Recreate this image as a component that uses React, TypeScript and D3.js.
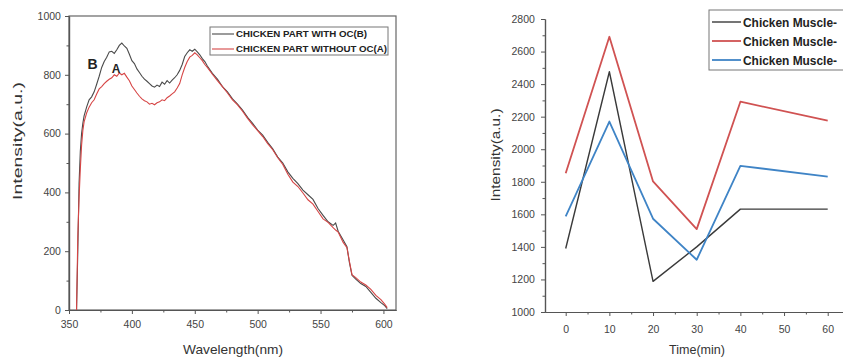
import React, { useEffect, useRef } from 'react';
import * as d3 from 'd3';

// left panel: fluorescence spectra
const wavelengths = [
  356, 357, 358, 359, 360, 361, 362, 364, 366, 368, 370, 372, 374, 376, 378, 380, 382, 384, 386, 388,
  390, 392, 394, 396, 398, 400, 402, 404, 406, 408, 410, 412, 414, 416, 418, 420, 422, 424, 426, 428,
  430, 432, 434, 436, 438, 440, 442, 444, 446, 448, 450, 452, 454, 456, 458, 460, 464, 468, 472, 476,
  480, 484, 488, 492, 496, 500, 504, 508, 512, 516, 520, 524, 528, 532, 536, 540, 544, 548, 552, 556,
  560, 562, 564, 568, 571, 573, 575, 578, 582, 586, 590, 594, 598, 601, 603,
];
const withOC = [
  0, 200, 430, 540, 600, 635, 660, 690, 715, 725, 742, 768, 795, 825, 845, 860, 878, 880, 873, 885,
  900, 908, 898, 890, 870, 848, 838, 820, 808, 795, 785, 778, 770, 762, 758, 765, 760, 775, 768, 780,
  772, 782, 790, 800, 815, 835, 862, 875, 885, 880, 887, 878, 868, 855, 845, 830, 805, 785, 760, 742,
  718, 700, 680, 655, 635, 612, 595, 570, 548, 520, 500, 470, 448, 430, 408, 392, 376, 345, 322, 300,
  288, 296, 268, 238, 215, 160, 118, 105, 90, 80, 60, 40, 25, 15, 5,
];
const withoutOC = [
  0, 250, 380, 480, 560, 610, 640, 670, 690, 705, 715, 735, 752, 760, 770, 778, 785, 790, 800, 795,
  806, 800, 805, 792, 780, 762, 750, 738, 727, 718, 712, 708, 700, 703, 698, 705, 708, 715, 712, 722,
  728, 735, 742, 755, 770, 800, 825, 845, 860, 866, 875, 868, 858, 848, 835, 825, 802, 780, 760, 738,
  715, 698, 676, 652, 630, 610, 590, 566, 545, 518, 495, 462, 435, 420, 398, 375, 360, 335, 310, 298,
  280, 272, 265, 230, 212, 165, 120, 110, 95, 85, 70, 50, 35, 20, 8,
];
const spectraLegend = ['CHICKEN PART WITH OC(B)', 'CHICKEN PART WITHOUT OC(A)'];

// right panel: intensity over time
const times = [0, 10, 20, 30, 40, 60];
const muscle1 = [1390, 2476, 1188, 1400, 1632, 1632];
const muscle2 = [1853, 2691, 1802, 1509, 2292, 2176];
const muscle3 = [1587, 2170, 1573, 1321, 1898, 1832];
const muscleLegend = ['Chicken Muscle-', 'Chicken Muscle-', 'Chicken Muscle-'];

const FONT = "Arial, 'Liberation Sans', sans-serif";
const AXIS = '#555';
const fmt = d3.format('d');

const App: React.FC = () => {
  const ref = useRef<SVGSVGElement | null>(null);

  useEffect(() => {
    const svg = d3.select(ref.current);
    svg.selectAll('*').remove();
    svg.attr('font-family', FONT);

    // ---------- left chart ----------
    const x1 = d3.scaleLinear().domain([350, 610]).range([69, 396]);
    const y1 = d3.scaleLinear().domain([0, 1000]).range([310, 16]);
    const g1 = svg.append('g');

    // frame
    g1.append('rect')
      .attr('x', x1(350)).attr('y', y1(1000))
      .attr('width', x1(610) - x1(350)).attr('height', y1(0) - y1(1000))
      .attr('fill', 'none').attr('stroke', '#666').attr('stroke-width', 1.2);

    const xAx1 = g1.append('g').attr('transform', `translate(0,${y1(0)})`)
      .call(d3.axisBottom(x1).tickValues(d3.range(350, 601, 50)).tickSize(4).tickSizeOuter(0).tickFormat(fmt));
    g1.append('g').attr('transform', `translate(0,${y1(0)})`)
      .call(d3.axisBottom(x1).tickValues(d3.range(375, 601, 50)).tickSize(2.5).tickSizeOuter(0).tickFormat(() => ''));
    const yAx1 = g1.append('g').attr('transform', `translate(${x1(350)},0)`)
      .call(d3.axisLeft(y1).tickValues(d3.range(0, 1001, 200)).tickSize(4).tickSizeOuter(0).tickFormat(fmt));
    g1.append('g').attr('transform', `translate(${x1(350)},0)`)
      .call(d3.axisLeft(y1).tickValues(d3.range(100, 1000, 200)).tickSize(2.5).tickSizeOuter(0).tickFormat(() => ''));
    xAx1.selectAll('text').attr('dy', '1.05em');
    yAx1.selectAll('text').attr('dx', '-0.1em');

    const spec = (vals: number[]) =>
      d3.line<number>().x((_, i) => x1(wavelengths[i])).y((v) => y1(v))(vals);
    g1.append('path').attr('d', spec(withOC)).attr('fill', 'none').attr('stroke', '#4a4a4a').attr('stroke-width', 1.1);
    g1.append('path').attr('d', spec(withoutOC)).attr('fill', 'none').attr('stroke', '#d64545').attr('stroke-width', 1.1);

    g1.append('text').text('B').attr('x', 92.5).attr('y', 69).attr('text-anchor', 'middle')
      .attr('font-weight', 'bold').attr('font-size', 14).attr('fill', '#222');
    g1.append('text').text('A').attr('x', 116).attr('y', 72.5).attr('text-anchor', 'middle')
      .attr('font-weight', 'bold').attr('font-size', 12).attr('fill', '#222');

    // legend
    const lg1 = g1.append('g');
    lg1.append('rect').attr('x', 210).attr('y', 27).attr('width', 178).attr('height', 28)
      .attr('fill', 'white').attr('stroke', '#777').attr('stroke-width', 1);
    const lenL = [131, 151];
    ['#4a4a4a', '#d64545'].forEach((c, i) => {
      const yy = 34 + i * 15;
      lg1.append('line').attr('x1', 212).attr('x2', 234).attr('y1', yy).attr('y2', yy)
        .attr('stroke', c).attr('stroke-width', 1.1);
      lg1.append('text').text(spectraLegend[i]).attr('x', 236).attr('y', yy + 3.2)
        .attr('font-size', 8.5).attr('font-weight', 'bold').attr('fill', '#222')
        .attr('textLength', lenL[i]).attr('lengthAdjust', 'spacingAndGlyphs');
    });

    g1.append('text').text('Wavelength(nm)').attr('x', 233).attr('y', 354).attr('text-anchor', 'middle')
      .attr('font-size', 13.5).attr('fill', '#333').attr('textLength', 100).attr('lengthAdjust', 'spacingAndGlyphs');
    g1.append('text').text('Intensity(a.u.)').attr('transform', 'translate(22,141) rotate(-90)')
      .attr('text-anchor', 'middle').attr('font-size', 13).attr('fill', '#333')
      .attr('textLength', 118).attr('lengthAdjust', 'spacingAndGlyphs');

    // ---------- right chart ----------
    const x2 = d3.scaleLinear().domain([-4.74, 63.5]).range([545, 843]);
    const y2 = d3.scaleLinear().domain([1000, 2800]).range([312, 19]);
    const g2 = svg.append('g');

    const xAx2 = g2.append('g').attr('transform', `translate(0,${y2(1000)})`)
      .call(d3.axisBottom(x2).tickValues(d3.range(0, 61, 10)).tickSize(4).tickSizeOuter(0).tickFormat(fmt));
    g2.append('g').attr('transform', `translate(0,${y2(1000)})`)
      .call(d3.axisBottom(x2).tickValues(d3.range(5, 61, 10)).tickSize(2.5).tickSizeOuter(0).tickFormat(() => ''));
    const yAx2 = g2.append('g').attr('transform', `translate(${x2.range()[0]},0)`)
      .call(d3.axisLeft(y2).tickValues(d3.range(1000, 2801, 200)).tickSize(4).tickSizeOuter(0).tickFormat(fmt));
    g2.append('g').attr('transform', `translate(${x2.range()[0]},0)`)
      .call(d3.axisLeft(y2).tickValues(d3.range(1100, 2800, 200)).tickSize(2.5).tickSizeOuter(0).tickFormat(() => ''));
    xAx2.selectAll('text').attr('dy', '1.3em');
    yAx2.selectAll('text').attr('dx', '-0.3em');

    const tline = (vals: number[]) =>
      d3.line<number>().x((_, i) => x2(times[i])).y((v) => y2(v))(vals);
    const series = [
      { vals: muscle1, color: '#3a3a3a', w: 1.4 },
      { vals: muscle2, color: '#d05252', w: 1.8 },
      { vals: muscle3, color: '#3f84c6', w: 1.8 },
    ];
    series.forEach((s) => {
      g2.append('path').attr('d', tline(s.vals)).attr('fill', 'none')
        .attr('stroke', s.color).attr('stroke-width', s.w).attr('stroke-linejoin', 'round');
    });

    const lg2 = g2.append('g');
    lg2.append('rect').attr('x', 709).attr('y', 10).attr('width', 150).attr('height', 60)
      .attr('fill', 'white').attr('stroke', '#777').attr('stroke-width', 1);
    series.forEach((s, i) => {
      const yy = 22 + i * 19;
      lg2.append('line').attr('x1', 712).attr('x2', 741).attr('y1', yy).attr('y2', yy)
        .attr('stroke', s.color).attr('stroke-width', s.w);
      lg2.append('text').text(muscleLegend[i]).attr('x', 743).attr('y', yy + 4.8)
        .attr('font-size', 12.5).attr('font-weight', 'bold').attr('fill', '#222')
        .attr('textLength', 94).attr('lengthAdjust', 'spacingAndGlyphs');
    });

    g2.append('text').text('Time(min)').attr('x', 697).attr('y', 354).attr('text-anchor', 'middle')
      .attr('font-size', 13).attr('fill', '#333').attr('textLength', 56).attr('lengthAdjust', 'spacingAndGlyphs');
    g2.append('text').text('Intensity(a.u.)').attr('transform', 'translate(500,155) rotate(-90)')
      .attr('text-anchor', 'middle').attr('font-size', 12.5).attr('fill', '#333')
      .attr('textLength', 93).attr('lengthAdjust', 'spacingAndGlyphs');

    // shared axis styling
    svg.selectAll('.domain').attr('stroke', AXIS).attr('stroke-width', 1.2);
    svg.selectAll('.tick line').attr('stroke', AXIS);
    svg.selectAll('.tick text').attr('fill', '#444').attr('font-size', 10.5).attr('font-family', FONT);
  }, []);

  return (
    <svg
      ref={ref}
      width={843}
      height={358}
      style={{ position: 'absolute', left: 0, top: 0, background: 'white' }}
    />
  );
};

export default App;
